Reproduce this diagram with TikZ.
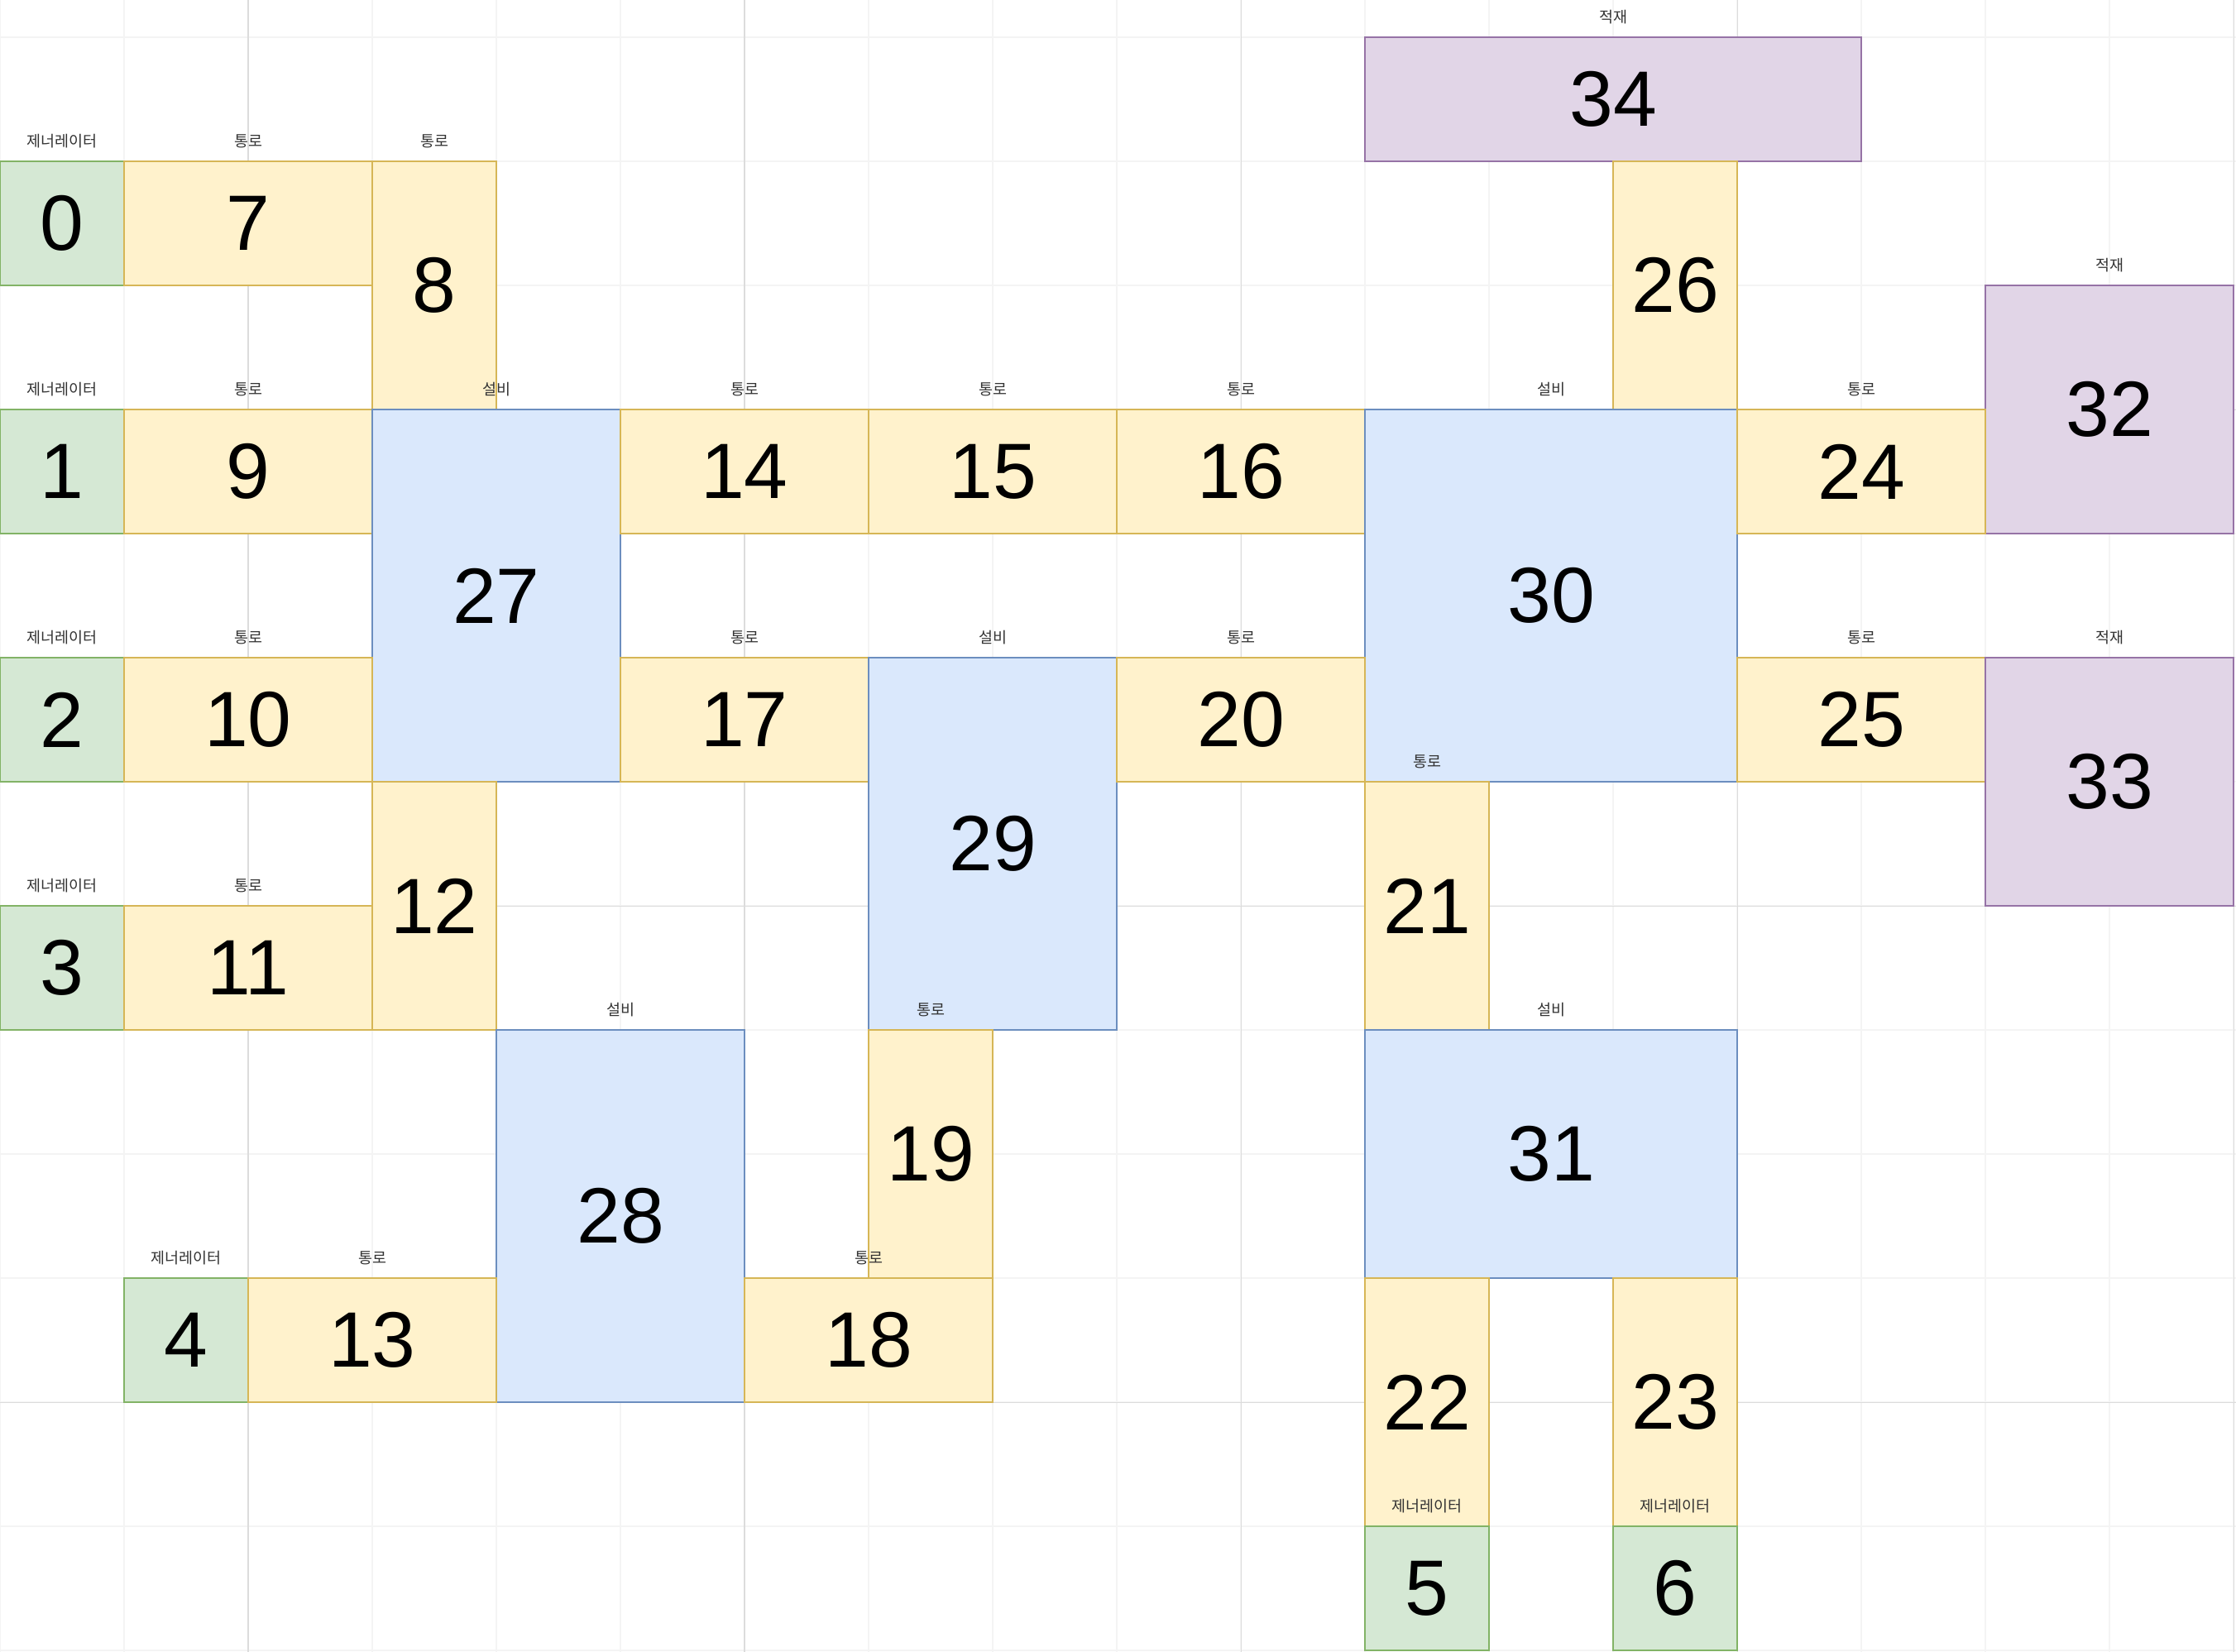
\documentclass[tikz,border=0pt]{standalone}
\usepackage{fontspec}
\setmainfont{Liberation Sans}
\newfontfamily\krfont{Noto Sans CJK KR}
\definecolor{gfill}{HTML}{D5E8D4}\definecolor{gline}{HTML}{82B366}
\definecolor{yfill}{HTML}{FFF2CC}\definecolor{yline}{HTML}{D6B656}
\definecolor{bfill}{HTML}{DAE8FC}\definecolor{bline}{HTML}{6C8EBF}
\definecolor{pfill}{HTML}{E1D5E7}\definecolor{pline}{HTML}{9673A6}
\definecolor{gridminor}{HTML}{F4F4F4}\definecolor{gridmajor}{HTML}{DCDCDC}
\definecolor{lbltext}{HTML}{333333}
\tikzset{
  roombox/.style={draw, line width=0.4pt, inner sep=0pt, outer sep=0pt, anchor=center,
    font=\fontsize{18}{20}\selectfont},
  genbox/.style={roombox, fill=gfill, draw=gline},
  pathbox/.style={roombox, fill=yfill, draw=yline},
  eqbox/.style={roombox, fill=bfill, draw=bline},
  loadbox/.style={roombox, fill=pfill, draw=pline},
  lbl/.style={inner sep=0pt, anchor=center, text=lbltext, yshift=0.16cm,
    font=\krfont\fontsize{3.5}{4}\selectfont}
}
\newcommand\room[7]{\node[#2, minimum width=#5cm, minimum height=#6cm] (#1) at ({#3+#5/2},{#4+#6/2}) {#7};}
\begin{document}
\begin{tikzpicture}[x=1cm,y=-1cm]
\fill[white] (0,-0.3) rectangle (18.02,13.013);
\useasboundingbox (0,-0.3) rectangle (18.02,13.013);
% grid
\foreach \i in {0,...,18} \draw[gridminor, line width=0.4pt] (\i,-0.3) -- (\i,13.013);
\foreach \j in {0,...,13} \draw[gridminor, line width=0.4pt] (0,\j) -- (18.02,\j);
\foreach \i in {2,6,10,14,18} \draw[gridmajor, line width=0.2pt] (\i,-0.3) -- (\i,13.013);
\foreach \j in {3,7,11} \draw[gridmajor, line width=0.2pt] (0,\j) -- (18.02,\j);
% rooms
\room{n34}{loadbox}{11}{0}{4}{1}{34}
\room{n0}{genbox}{0}{1}{1}{1}{0}
\room{n7}{pathbox}{1}{1}{2}{1}{7}
\room{n8}{pathbox}{3}{1}{1}{2}{8}
\room{n26}{pathbox}{13}{1}{1}{2}{26}
\room{n32}{loadbox}{16}{2}{2}{2}{32}
\room{n1}{genbox}{0}{3}{1}{1}{1}
\room{n9}{pathbox}{1}{3}{2}{1}{9}
\room{n27}{eqbox}{3}{3}{2}{3}{27}
\room{n14}{pathbox}{5}{3}{2}{1}{14}
\room{n15}{pathbox}{7}{3}{2}{1}{15}
\room{n16}{pathbox}{9}{3}{2}{1}{16}
\room{n30}{eqbox}{11}{3}{3}{3}{30}
\room{n24}{pathbox}{14}{3}{2}{1}{24}
\room{n2}{genbox}{0}{5}{1}{1}{2}
\room{n10}{pathbox}{1}{5}{2}{1}{10}
\room{n17}{pathbox}{5}{5}{2}{1}{17}
\room{n29}{eqbox}{7}{5}{2}{3}{29}
\room{n20}{pathbox}{9}{5}{2}{1}{20}
\room{n25}{pathbox}{14}{5}{2}{1}{25}
\room{n33}{loadbox}{16}{5}{2}{2}{33}
\room{n21}{pathbox}{11}{6}{1}{2}{21}
\room{n12}{pathbox}{3}{6}{1}{2}{12}
\room{n3}{genbox}{0}{7}{1}{1}{3}
\room{n11}{pathbox}{1}{7}{2}{1}{11}
\room{n28}{eqbox}{4}{8}{2}{3}{28}
\room{n19}{pathbox}{7}{8}{1}{2}{19}
\room{n31}{eqbox}{11}{8}{3}{2}{31}
\room{n4}{genbox}{1}{10}{1}{1}{4}
\room{n13}{pathbox}{2}{10}{2}{1}{13}
\room{n18}{pathbox}{6}{10}{2}{1}{18}
\room{n22}{pathbox}{11}{10}{1}{2}{22}
\room{n23}{pathbox}{13}{10}{1}{2}{23}
\room{n5}{genbox}{11}{12}{1}{1}{5}
\room{n6}{genbox}{13}{12}{1}{1}{6}
% labels
\foreach \n/\t in {n34/적재, n32/적재, n33/적재,
  n0/제너레이터, n1/제너레이터, n2/제너레이터, n3/제너레이터, n4/제너레이터, n5/제너레이터, n6/제너레이터,
  n7/통로, n8/통로, n9/통로, n10/통로, n11/통로, n13/통로, n14/통로, n15/통로, n16/통로, n17/통로,
  n18/통로, n19/통로, n20/통로, n21/통로, n24/통로, n25/통로,
  n27/설비, n28/설비, n29/설비, n30/설비, n31/설비}
  \node[lbl] (l\n) at (\n.north) {\t};
\end{tikzpicture}
\end{document}
